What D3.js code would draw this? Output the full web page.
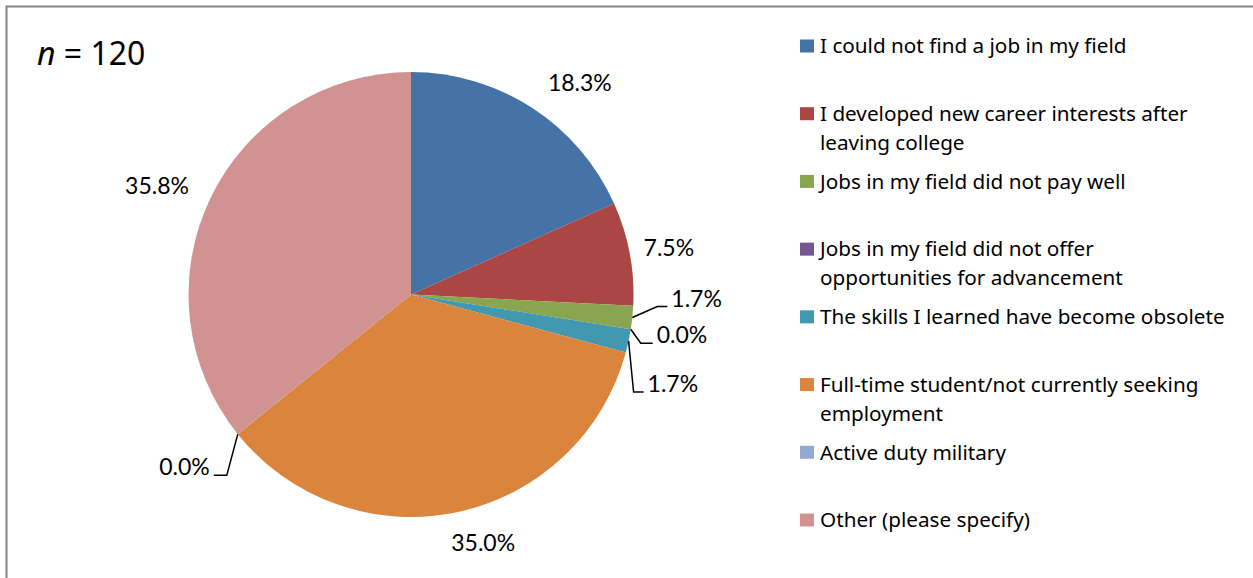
<!DOCTYPE html>
<html><head><meta charset="utf-8">
<script src="https://cdn.jsdelivr.net/npm/d3@7"></script>
<style>body{margin:0;background:#fff;} svg{display:block;}</style>
</head><body>
<svg id="chart" width="1253" height="578"></svg>
<script>
const categories = [
  "I could not find a job in my field",
  "I developed new career interests after leaving college",
  "Jobs in my field did not pay well",
  "Jobs in my field did not offer opportunities for advancement",
  "The skills I learned have become obsolete",
  "Full-time student/not currently seeking employment",
  "Active duty military",
  "Other (please specify)"
];
const legendLines = [
  ["I could not find a job in my field"],
  ["I developed new career interests after", "leaving college"],
  ["Jobs in my field did not pay well"],
  ["Jobs in my field did not offer", "opportunities for advancement"],
  ["The skills I learned have become obsolete"],
  ["Full-time student/not currently seeking", "employment"],
  ["Active duty military"],
  ["Other (please specify)"]
];
const percentages = [18.3, 7.5, 1.7, 0.0, 1.7, 35.0, 0.0, 35.8];
const colors = ["#4572A7", "#AA4643", "#89A54E", "#71588F", "#4198AF", "#DB843D", "#93A9CF", "#D19392"];
const sampleSize = 120;

const svg = d3.select("#chart");
const FONT = "Lato, 'Open Sans', sans-serif";
const LFONT = "'Noto Sans', 'Open Sans', sans-serif";

// border
svg.append("rect").attr("x", 6.5).attr("y", 6.5).attr("width", 1260).attr("height", 600)
  .attr("fill", "none").attr("stroke", "#868686").attr("stroke-width", 2);

const cx = 411, cy = 294.5, R = 222.5;
const g = svg.append("g").attr("transform", `translate(${cx},${cy})`);

const pie = d3.pie().sort(null).value(d => d);
const arcs = pie(percentages);
const arc = d3.arc().innerRadius(0).outerRadius(R);

g.selectAll("path.slice").data(arcs).enter().append("path")
  .attr("class", "slice")
  .attr("d", arc)
  .attr("fill", (d, i) => colors[i]);

// label layout: polar placement (angle offset deg, radius) relative to pie, or leader layout
const labelLayout = [
  {r: 271, da: 5.6},
  {r: 262, da: 0.4},
  {leader: true, elbow: [25, -11], len: 10, side: "right"},
  {leader: true, elbow: [10, 14], len: 12, side: "right"},
  {leader: true, elbow: [5, 51], len: 10, side: "right"},
  {r: 259, da: -4.3},
  {leader: true, elbow: [-11, 41], len: 13, side: "left"},
  {r: 276, da: -2.5}
];
const fmt = d => d.toFixed(1) + "%";
arcs.forEach((a, i) => {
  const mid = (a.startAngle + a.endAngle) / 2;
  const L = labelLayout[i];
  const txt = fmt(percentages[i]);
  if (!L.leader) {
    const ang = mid + L.da * Math.PI / 180;
    const x = L.r * Math.sin(ang), y = -L.r * Math.cos(ang);
    g.append("text").attr("x", x).attr("y", y).attr("dy", "0.35em")
      .attr("text-anchor", "middle").attr("font-family", FONT).attr("font-size", 23)
      .attr("fill", "#000").text(txt);
  } else {
    const sx = R * Math.sin(mid), sy = -R * Math.cos(mid);
    const ex = sx + L.elbow[0], ey = sy + L.elbow[1];
    const dir = L.side === "right" ? 1 : -1;
    const fx = ex + dir * L.len;
    g.append("path").attr("d", d3.line()([[sx, sy], [ex, ey], [fx, ey]]))
      .attr("fill", "none").attr("stroke", "#000").attr("stroke-width", 1.5);
    g.append("text").attr("x", fx + dir * 4).attr("y", ey)
      .attr("text-anchor", dir > 0 ? "start" : "end").attr("font-family", FONT).attr("font-size", 23)
      .attr("fill", "#000").text(txt);
  }
});

// n label
const nt = svg.append("text").attr("x", 37).attr("y", 65).attr("font-family", LFONT).attr("font-size", 32).attr("fill", "#000");
nt.append("tspan").attr("font-style", "italic").text("n");
nt.append("tspan").text(" = " + sampleSize);

// legend
const legendY = d3.scalePoint().domain(d3.range(categories.length)).range([46, 520]);
const lg = svg.append("g");
categories.forEach((c, i) => {
  const y = legendY(i);
  lg.append("rect").attr("x", 800).attr("y", y - 6.5).attr("width", 14).attr("height", 13).attr("fill", colors[i]);
  const t = lg.append("text").attr("x", 820).attr("y", y)
    .attr("font-family", LFONT).attr("font-size", 20.7).attr("fill", "#000");
  legendLines[i].forEach((ln, j) => {
    t.append("tspan").attr("x", 820).attr("dy", j === 0 ? "0.35em" : 29).text(ln);
  });
});
</script>
</body></html>
